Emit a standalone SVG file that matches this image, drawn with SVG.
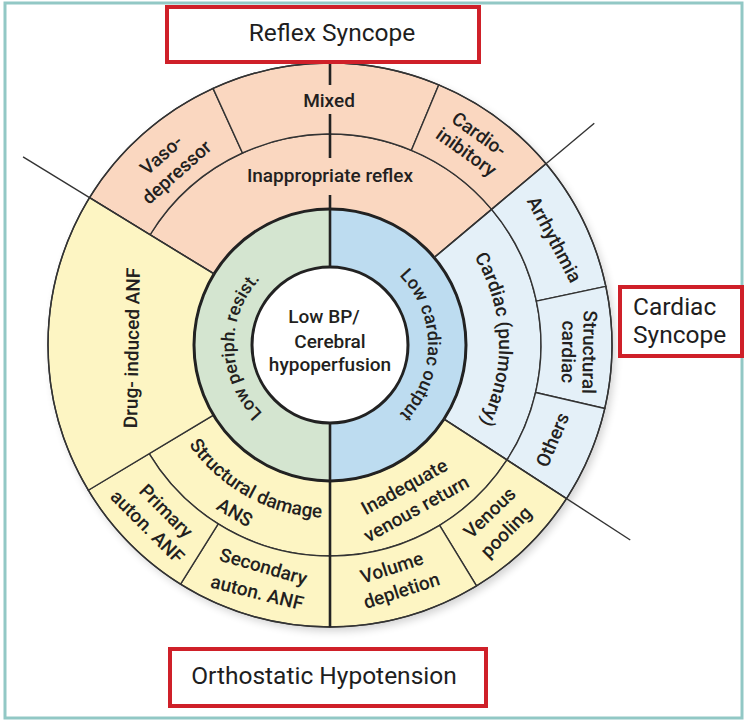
<svg xmlns="http://www.w3.org/2000/svg" xmlns:xlink="http://www.w3.org/1999/xlink" width="752" height="722" viewBox="0 0 752 722">
<style>
.cell{stroke:#333;stroke-width:1.4;stroke-linejoin:round}
.sal{fill:#fad7c0}
.yel{fill:#fdf5c3}
.lbl-blue{fill:#e4f0f8}
.grn{fill:#d4e5d0}
.blu{fill:#bddcf0}
.thick{fill:none;stroke:#222;stroke-width:3}
.conn{stroke:#333;stroke-width:1.4;fill:none}
.vline{stroke:#222;stroke-width:2.6;fill:none}
.t{font-family:Roboto,"Liberation Sans",sans-serif;font-size:19px;font-weight:500;fill:#231f20;text-anchor:middle}
.r{font-size:18px}
.bx{fill:#fff;stroke:#cf2029;stroke-width:4}
.bt{font-family:Roboto,"Liberation Sans",sans-serif;font-size:24.5px;font-weight:400;fill:#1e1e1e}
</style>
<defs>
<filter id="sh" x="-10%" y="-10%" width="120%" height="120%">
<feGaussianBlur stdDeviation="4"/>
</filter>
<path id="pLeft" d="M 283.46 428.96 A 96 96 0 0 1 280.56 262.71"/>
<path id="pRight" d="M 379 260.13 A 98 98 0 0 1 379 429.87"/>
<path id="pCard" d="M 445.26 221.4 A 169 169 0 0 1 453.6 460.26"/>
<path id="pStruct" d="M 163.92 393.41 A 173 173 0 0 0 378.41 511.08"/>
</defs>
<rect x="0" y="0" width="752" height="722" fill="#fff"/>
<rect x="5" y="3" width="737" height="715" fill="none" stroke="#92c8c5" stroke-width="3"/>
<circle cx="333" cy="349" r="282" fill="#000" opacity="0.18" filter="url(#sh)"/>

<g id="inappropriate-reflex">
<path class="cell sal" d="M 214.05 273.94 L 150.10 234.75 A 211 211 0 0 1 491.63 209.37 L 434.18 257.58 A 136 136 0 0 0 214.05 273.94 Z"/>
<text class="t" x="330" y="182">Inappropriate reflex</text>
</g>
<g id="vasodepressor">
<path class="cell sal" d="M 150.10 234.75 L 89.57 197.65 A 282 282 0 0 1 213.05 88.38 L 242.50 152.99 A 211 211 0 0 0 150.10 234.75 Z"/>
<g transform="translate(169 163.5) rotate(-41.5)"><text class="t" x="0" y="-5">Vaso-</text><text class="t" x="0" y="18">depressor</text></g>
</g>
<g id="mixed">
<path class="cell sal" d="M 242.50 152.99 L 213.05 88.38 A 282 282 0 0 1 438.82 84.85 L 411.42 150.35 A 211 211 0 0 0 242.50 152.99 Z"/>
<text class="t" x="329" y="107">Mixed</text>
</g>
<g id="cardioinhibitory">
<path class="cell sal" d="M 411.42 150.35 L 438.82 84.85 A 282 282 0 0 1 546.0 163.73 L 491.63 209.37 A 211 211 0 0 0 411.42 150.35 Z"/>
<g transform="translate(472.5 143.5) rotate(35.5)"><text class="t" x="0" y="-5">Cardio-</text><text class="t" x="0" y="17">inibitory</text></g>
</g>

<g id="cardiac-pulmonary">
<path class="cell lbl-blue" d="M 434.18 257.58 L 491.63 209.37 A 211 211 0 0 1 506.97 459.91 L 444.06 419.07 A 136 136 0 0 0 434.18 257.58 Z"/>
<text class="t"><textPath xlink:href="#pCard" href="#pCard" startOffset="50%">Cardiac (pulmonary)</textPath></text>
</g>
<g id="arrhythmia">
<path class="cell lbl-blue" d="M 491.63 209.37 L 546.0 163.73 A 282 282 0 0 1 605.82 286.37 L 536.38 301.13 A 211 211 0 0 0 491.63 209.37 Z"/>
<text class="t" transform="translate(553 240) rotate(62)" x="0" y="5">Arrhythmia</text>
</g>
<g id="structural-cardiac">
<path class="cell lbl-blue" d="M 536.38 301.13 L 605.82 286.37 A 282 282 0 0 1 604.78 408.45 L 535.60 392.48 A 211 211 0 0 0 536.38 301.13 Z"/>
<g transform="translate(579 352) rotate(91)"><text class="t" x="0" y="-4">Structural</text><text class="t" x="0" y="17">cardiac</text></g>
</g>
<g id="others">
<path class="cell lbl-blue" d="M 535.60 392.48 L 604.78 408.45 A 282 282 0 0 1 566.51 498.58 L 506.97 459.91 A 211 211 0 0 0 535.60 392.48 Z"/>
<text class="t" transform="translate(553 440) rotate(-67)" x="0" y="6">Others</text>
</g>

<g id="inadequate-venous-return">
<path class="cell yel" d="M 444.06 419.07 L 506.97 459.91 A 211 211 0 0 1 330 556 L 330 481 A 136 136 0 0 0 444.06 419.07 Z"/>
<text class="t" transform="translate(405 488) rotate(-29)" x="0" y="5">Inadequate</text>
<text class="t" transform="translate(417 510) rotate(-29)" x="0" y="5">venous return</text>
</g>
<g id="venous-pooling">
<path class="cell yel" d="M 506.97 459.91 L 566.51 498.58 A 282 282 0 0 1 476.50 585.97 L 439.61 525.30 A 211 211 0 0 0 506.97 459.91 Z"/>
<text class="t" transform="translate(490 513) rotate(-44)" x="0" y="6">Venous</text>
<text class="t" transform="translate(507 533) rotate(-45)" x="0" y="5">pooling</text>
</g>
<g id="volume-depletion">
<path class="cell yel" d="M 439.61 525.30 L 476.50 585.97 A 282 282 0 0 1 330 627 L 330 556 A 211 211 0 0 0 439.61 525.30 Z"/>
<text class="t" transform="translate(392 568) rotate(-18)" x="0" y="6">Volume</text>
<text class="t" transform="translate(402 592) rotate(-18)" x="0" y="5">depletion</text>
</g>

<g id="structural-damage-ans">
<path class="cell yel" d="M 330 481 L 330 556 A 211 211 0 0 1 149.13 453.67 L 213.42 415.04 A 136 136 0 0 0 330 481 Z"/>
<text class="t"><textPath xlink:href="#pStruct" href="#pStruct" startOffset="50%">Structural damage</textPath></text>
<text class="t" transform="translate(235 512) rotate(30)" x="0" y="7">ANS</text>
</g>
<g id="secondary-auton-anf">
<path class="cell yel" d="M 330 556 L 330 627 A 282 282 0 0 1 180.57 584.14 L 218.19 523.93 A 211 211 0 0 0 330 556 Z"/>
<text class="t" transform="translate(263 568) rotate(16)" x="0" y="5">Secondary</text>
<text class="t" transform="translate(257 593) rotate(14)" x="0" y="6">auton. ANF</text>
</g>
<g id="primary-auton-anf">
<path class="cell yel" d="M 218.19 523.93 L 180.57 584.14 A 282 282 0 0 1 88.27 490.23 L 149.13 453.67 A 211 211 0 0 0 218.19 523.93 Z"/>
<text class="t" transform="translate(165 512) rotate(45)" x="0" y="5">Primary</text>
<text class="t" transform="translate(147 527) rotate(45)" x="0" y="6">auton. ANF</text>
</g>
<g id="drug-induced-anf">
<path class="cell yel" d="M 213.42 415.04 L 88.27 490.23 A 282 282 0 0 1 89.57 197.65 L 214.05 273.94 A 136 136 0 0 0 213.42 415.04 Z"/>
<text class="t" transform="translate(133.5 348) rotate(-89)" x="0" y="5">Drug- induced ANF</text>
</g>

<g id="low-periph-resist">
<path class="grn" d="M 330 209 A 136 136 0 0 0 330 481 L 330 423 A 78 78 0 0 1 330 267 Z"/>
<text class="t r"><textPath xlink:href="#pLeft" href="#pLeft" startOffset="50%">Low periph. resist.</textPath></text>
</g>
<g id="low-cardiac-output">
<path class="blu" d="M 330 209 A 136 136 0 0 1 330 481 L 330 423 A 78 78 0 0 0 330 267 Z"/>
<text class="t r"><textPath xlink:href="#pRight" href="#pRight" startOffset="50%">Low cardiac output</textPath></text>
</g>
<g id="low-bp">
<circle cx="330" cy="345" r="78" fill="#fff"/>
<text class="t" x="324" y="323">Low BP/</text>
<text class="t" x="330" y="348">Cerebral</text>
<text class="t" x="330" y="371">hypoperfusion</text>
</g>

<g id="connectors">
<circle class="conn" cx="330" cy="345" r="282"/>
<circle class="thick" cx="330" cy="345" r="136"/>
<circle class="thick" cx="330" cy="345" r="78"/>
<line class="conn" x1="214.05" y1="273.94" x2="23.06" y2="156.9"/>
<line class="conn" x1="434.18" y1="257.58" x2="594.27" y2="123.23"/>
<line class="conn" x1="444.06" y1="419.07" x2="630.25" y2="539.97"/>
<line class="vline" x1="330" y1="63" x2="330" y2="85"/>
<line class="vline" x1="330" y1="114" x2="330" y2="158"/>
<line class="vline" x1="330" y1="195" x2="330" y2="267"/>
<line class="vline" x1="330" y1="423" x2="330" y2="627"/>
</g>

<g id="reflex-syncope">
<rect class="bx" x="167" y="7" width="312" height="55"/>
<text class="bt" x="332" y="41" text-anchor="middle">Reflex Syncope</text>
</g>
<g id="cardiac-syncope">
<rect class="bx" x="620" y="287" width="122" height="69"/>
<text class="bt" x="633" y="315">Cardiac</text>
<text class="bt" x="633" y="343">Syncope</text>
</g>
<g id="orthostatic-hypotension">
<rect class="bx" x="170" y="649" width="316" height="57"/>
<text class="bt" x="324" y="684" text-anchor="middle">Orthostatic Hypotension</text>
</g>
</svg>
